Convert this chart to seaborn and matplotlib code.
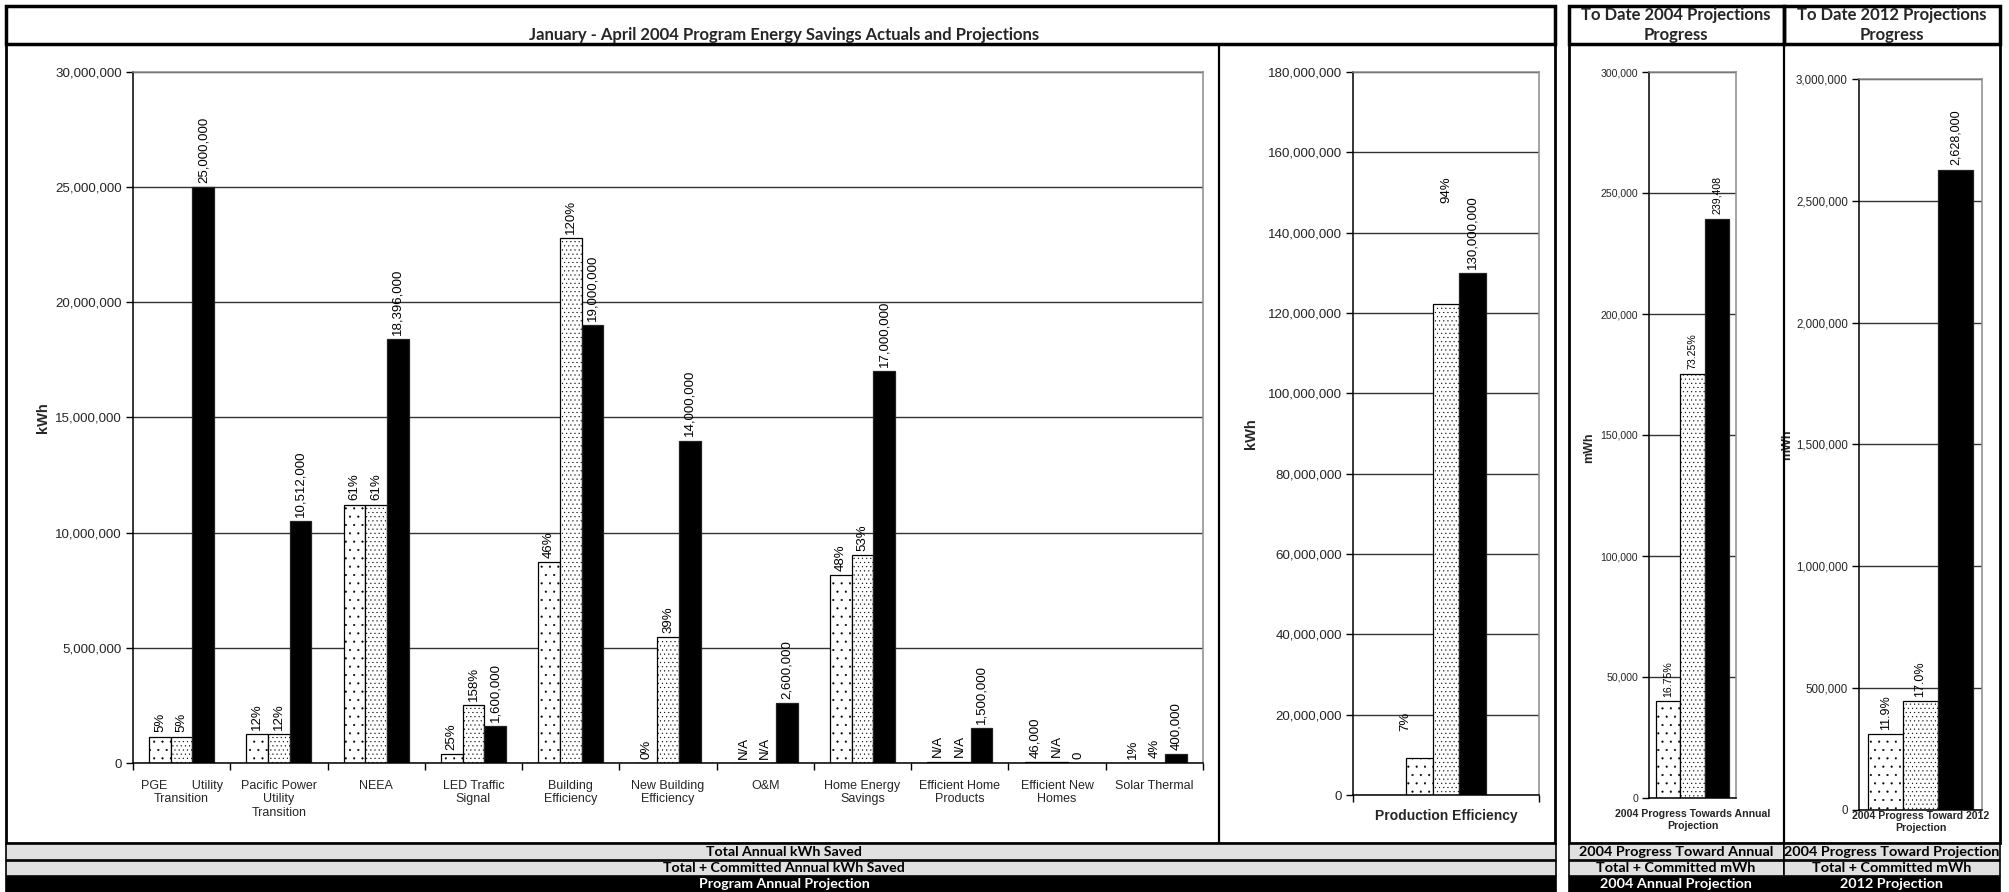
import numpy as np
import pandas as pd
import matplotlib
matplotlib.use("Agg")
import matplotlib.pyplot as plt
import seaborn as sns
from matplotlib.patches import Rectangle
from matplotlib.lines import Line2D
from matplotlib.ticker import FuncFormatter, MultipleLocator

# ---------------- data ----------------
series_names = ["Total Annual kWh Saved", "Total + Committed Annual kWh Saved", "Program Annual Projection"]

programs = ["PGE       Utility\nTransition", "Pacific Power\nUtility\nTransition", "NEEA",
            "LED Traffic\nSignal", "Building\nEfficiency", "New Building\nEfficiency", "O&M",
            "Home Energy\nSavings", "Efficient Home\nProducts", "Efficient New\nHomes", "Solar Thermal"]
saved_kwh = [1150000, 1260000, 11220000, 400000, 8740000, 0, 0, 8160000, 60000, 46000, 4000]
committed_kwh = [1150000, 1260000, 11220000, 2528000, 22800000, 5460000, 0, 9010000, 60000, 60000, 16000]
projection_kwh = [25000000, 10512000, 18396000, 1600000, 19000000, 14000000, 2600000, 17000000, 1500000, 0, 400000]
saved_labels = ["5%", "12%", "61%", "25%", "46%", "0%", "N/A", "48%", "N/A", "46,000", "1%"]
committed_labels = ["5%", "12%", "61%", "158%", "120%", "39%", "N/A", "53%", "N/A", "N/A", "4%"]
projection_labels = ["25,000,000", "10,512,000", "18,396,000", "1,600,000", "19,000,000", "14,000,000",
                     "2,600,000", "17,000,000", "1,500,000", "0", "400,000"]

prod_category = ["Production Efficiency"]
prod_saved = [9100000]
prod_committed = [122200000]
prod_projection = [130000000]
prod_labels = [["7%"], ["94%"], ["130,000,000"]]

p2004_category = ["2004 Progress Towards Annual\nProjection"]
p2004_saved = [40100]
p2004_committed = [175366]
p2004_projection = [239408]
p2004_labels = [["16.75%"], ["73.25%"], ["239,408"]]

p2012_category = ["2004 Progress Toward 2012\nProjection"]
p2012_saved = [312700]
p2012_committed = [446760]
p2012_projection = [2628000]
p2012_labels = [["11.9%"], ["17.0%"], ["2,628,000"]]

# ---------------- style ----------------
sns.set_style("white")
plt.rcParams["font.family"] = ["Liberation Sans", "DejaVu Sans"]
plt.rcParams["hatch.linewidth"] = 0.3
plt.rcParams["hatch.color"] = "black"
HEAD_FONT = ["Lato", "DejaVu Sans"]

W, H = 2009, 892
fig = plt.figure(figsize=(W / 100, H / 100), dpi=100)
fig.patch.set_facecolor("white")


def fx(x):
    return x / W


def fy(y):
    return 1 - y / H


def ax_at(x0, y0, x1, y1):
    return fig.add_axes([fx(x0), fy(y1), (x1 - x0) / W, (y1 - y0) / H])


def rect(x0, y0, x1, y1, fc="none", ec="black", lw=2.0, z=1):
    fig.add_artist(Rectangle((fx(x0), fy(y1)), (x1 - x0) / W, (y1 - y0) / H,
                             transform=fig.transFigure, facecolor=fc, edgecolor=ec, linewidth=lw, zorder=z))


def vline(x, y0, y1, lw=1.5):
    fig.add_artist(Line2D([fx(x), fx(x)], [fy(y0), fy(y1)], transform=fig.transFigure,
                          color="black", linewidth=lw, zorder=3))


def panel(ax, cats, vals, labels, width, ymax, step, tick_fs, lab_fs, cat_fs, cat_pad,
          cat_bold=False, offsets=None, ylab="kWh", ylab_xy=(-0.1, 0.5), ylab_fs=10):
    offsets = offsets or {}
    n = len(cats)
    df = pd.DataFrame({"category": list(cats) * 3,
                       "series": np.repeat(series_names, n),
                       "value": np.concatenate([np.asarray(v, float) for v in vals])})
    sns.barplot(data=df, x="category", y="value", hue="series", order=cats, hue_order=series_names,
                palette=["white", "white", "black"], saturation=1, width=width, gap=0,
                errorbar=None, edgecolor="black", linewidth=0.9, legend=False, ax=ax)
    hatches = ["..", "....", None]
    for i, cont in enumerate(ax.containers):
        for j, p in enumerate(cont.patches):
            if hatches[i]:
                p.set_hatch(hatches[i])
            else:
                p.set_edgecolor("#222222")
            x = p.get_x() + p.get_width() / 2
            h = p.get_height()
            dx, dy = offsets.get((i, j), (0, 0))
            ax.annotate(labels[i][j], (x, h), xytext=(dx, 3 + dy), textcoords="offset points",
                        rotation=90, ha="center", va="bottom", fontsize=lab_fs, color="black")
    ax.set_xlim(-0.5, n - 0.5)
    ax.set_ylim(0, ymax)
    ax.yaxis.set_major_locator(MultipleLocator(step))
    ax.yaxis.set_major_formatter(FuncFormatter(lambda v, p: f"{v:,.0f}"))
    ax.set_xticks(np.arange(-0.5, n, 1.0))
    ax.set_xticklabels([])
    ax.set_xticks(np.arange(n), minor=True)
    ax.set_xticklabels(cats, minor=True, fontsize=cat_fs,
                       fontweight="bold" if cat_bold else "normal")
    ax.tick_params(axis="x", which="minor", length=0, pad=cat_pad)
    ax.tick_params(axis="x", which="major", length=5, width=1, direction="out", bottom=True, color="black")
    ax.tick_params(axis="y", length=5, width=1, direction="out", left=True, pad=3,
                   labelsize=tick_fs, color="black")
    ax.yaxis.grid(True, color="#333333", linewidth=1.0)
    ax.xaxis.grid(False)
    ax.set_axisbelow(True)
    for s in ["left", "bottom"]:
        ax.spines[s].set_color("black")
        ax.spines[s].set_linewidth(1.1)
    for s in ["top", "right"]:
        ax.spines[s].set_color("#8c8c8c")
        ax.spines[s].set_linewidth(1.1)
    ax.set_xlabel("")
    ax.set_ylabel(ylab, fontsize=ylab_fs, fontweight="bold")
    ax.yaxis.set_label_coords(*ylab_xy)


# ---------------- axes ----------------
ax1 = ax_at(133, 72, 1203, 763)
panel(ax1, programs, [saved_kwh, committed_kwh, projection_kwh],
      [saved_labels, committed_labels, projection_labels],
      width=0.67, ymax=30000000, step=5000000, tick_fs=9.6, lab_fs=9.5, cat_fs=9.0, cat_pad=12,
      ylab="kWh", ylab_xy=(-0.078, 0.5), ylab_fs=10.5)

ax2 = ax_at(1353, 72, 1539, 795)
panel(ax2, prod_category, [prod_saved, prod_committed, prod_projection], prod_labels,
      width=0.43, ymax=180000000, step=20000000, tick_fs=9.6, lab_fs=9.5, cat_fs=10, cat_pad=10,
      cat_bold=True, offsets={(0, 0): (-10, 17), (1, 0): (0, 70)},
      ylab="kWh", ylab_xy=(-0.51, 0.5), ylab_fs=10.5)

ax3 = ax_at(1649, 72, 1736, 798)
panel(ax3, p2004_category, [p2004_saved, p2004_committed, p2004_projection], p2004_labels,
      width=0.85, ymax=300000, step=50000, tick_fs=7.6, lab_fs=7.6, cat_fs=7.6, cat_pad=8,
      cat_bold=True, ylab="mWh", ylab_xy=(-0.62, 0.483), ylab_fs=9)

ax4 = ax_at(1859, 79, 1982, 810)
panel(ax4, p2012_category, [p2012_saved, p2012_committed, p2012_projection], p2012_labels,
      width=0.85, ymax=3000000, step=500000, tick_fs=8.3, lab_fs=9, cat_fs=7.6, cat_pad=1,
      cat_bold=True, ylab="mWh", ylab_xy=(-0.535, 0.5), ylab_fs=9)
for ax in (ax3, ax4):
    ax.tick_params(axis="x", which="major", length=0)

# ---------------- frames ----------------
rect(6, 6, 1555, 44, lw=2.5)
rect(6, 44, 1555, 843, lw=2.0)
vline(1219, 44, 843, lw=1.6)
rect(1569, 6, 1784, 44, lw=2.5)
rect(1784, 6, 2000, 44, lw=2.5)
rect(1569, 44, 2000, 843, lw=2.0)
vline(1784, 44, 843, lw=1.6)

fig.text(fx(784), fy(35), "January - April 2004 Program Energy Savings Actuals and Projections",
         ha="center", va="center", fontsize=12, fontweight="bold", family=HEAD_FONT)
fig.text(fx(1676), fy(15), "To Date 2004 Projections", ha="center", va="center",
         fontsize=12, fontweight="bold", family=HEAD_FONT)
fig.text(fx(1676), fy(35), "Progress", ha="center", va="center",
         fontsize=12, fontweight="bold", family=HEAD_FONT)
fig.text(fx(1892), fy(15), "To Date 2012 Projections", ha="center", va="center",
         fontsize=12, fontweight="bold", family=HEAD_FONT)
fig.text(fx(1892), fy(35), "Progress", ha="center", va="center",
         fontsize=12, fontweight="bold", family=HEAD_FONT)

# ---------------- bottom legend bands ----------------
band_rows = [(844, 860, "#e0e0e0", "black"), (861, 876, "#e0e0e0", "black"), (877, 892, "black", "white")]
band_texts_left = [series_names[0], series_names[1], series_names[2]]
band_texts_mid = ["2004 Progress Toward Annual", "Total + Committed mWh", "2004 Annual Projection"]
band_texts_right = ["2004 Progress Toward Projection", "Total + Committed mWh", "2012 Projection"]
for (y0, y1, fc, tc), tl, tm, tr in zip(band_rows, band_texts_left, band_texts_mid, band_texts_right):
    rect(6, y0, 1556, y1, fc=fc, lw=1.2, z=2)
    rect(1569, y0, 1784, y1, fc=fc, lw=1.2, z=2)
    rect(1784, y0, 2000, y1, fc=fc, lw=1.2, z=2)
    yc = (y0 + y1) / 2
    fig.text(fx(784), fy(yc), tl, ha="center", va="center", fontsize=10.2, fontweight="bold",
             color=tc, family=HEAD_FONT, zorder=4)
    fig.text(fx(1676), fy(yc), tm, ha="center", va="center", fontsize=10.4, fontweight="bold",
             color=tc, family=HEAD_FONT, zorder=4)
    fig.text(fx(1892), fy(yc), tr, ha="center", va="center", fontsize=10.4, fontweight="bold",
             color=tc, family=HEAD_FONT, zorder=4)

fig.savefig("out.png", dpi=100, facecolor="white")
